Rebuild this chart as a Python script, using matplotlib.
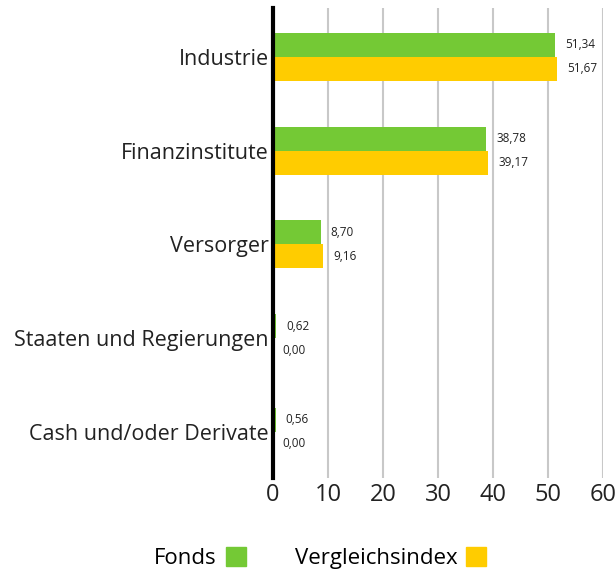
import matplotlib.pyplot as plt
import numpy as np
from matplotlib.patches import Patch

categories = ['Industrie', 'Finanzinstitute', 'Versorger',
              'Staaten und Regierungen', 'Cash und/oder Derivate']
fonds = [51.34, 38.78, 8.70, 0.62, 0.56]
index = [51.67, 39.17, 9.16, 0.00, 0.00]
xticks = [0, 10, 20, 30, 40, 50, 60]

GREEN = '#74c935'
YELLOW = '#ffcc00'

plt.rcParams['font.family'] = ['Open Sans', 'DejaVu Sans']


def fmt(v):
    return f'{v:.2f}'.replace('.', ',')


def main():
    fig = plt.figure(figsize=(6.16, 5.73), dpi=100)
    ax = fig.add_axes([0.443, 0.166, 0.536, 0.820])

    y = np.arange(len(categories))
    h = 0.256
    ax.barh(y - h / 2, fonds, height=h, color=GREEN, zorder=3)
    ax.barh(y + h / 2, index, height=h, color=YELLOW, zorder=3)

    for yi, v in zip(y, fonds):
        ax.text(v + 1.8, yi - h / 2, fmt(v), va='center', ha='left',
                fontsize=8.5, color='#222222')
    for yi, v in zip(y, index):
        ax.text(v + 1.8, yi + h / 2, fmt(v), va='center', ha='left',
                fontsize=8.5, color='#222222')

    ax.set_yticks(y)
    ax.set_yticklabels(categories, fontsize=15.5, color='#222222')
    ax.set_ylim(4.49, -0.52)
    ax.set_xlim(0, 60)
    ax.set_xticks(xticks)
    ax.set_xticklabels([str(t) for t in xticks], fontsize=17, color='#222222')
    ax.tick_params(axis='both', length=0, pad=3)
    ax.tick_params(axis='x', pad=4)

    ax.grid(axis='x', color='#c8c8c8', linewidth=1.5, zorder=0)
    for s in ['top', 'right', 'bottom']:
        ax.spines[s].set_visible(False)
    ax.spines['left'].set_linewidth(3)
    ax.spines['left'].set_color('black')
    ax.spines['left'].set_zorder(4)

    handles = [Patch(color=GREEN), Patch(color=YELLOW)]
    fig.legend(handles, ['Fonds', 'Vergleichsindex'], loc='center',
               bbox_to_anchor=(0.52, 0.026), ncol=2, frameon=False,
               markerfirst=False, fontsize=16, handlelength=0.9,
               handleheight=0.9, columnspacing=2.2, handletextpad=0.4)

    fig.savefig('out.png', dpi=100)


if __name__ == "__main__":
    main()
